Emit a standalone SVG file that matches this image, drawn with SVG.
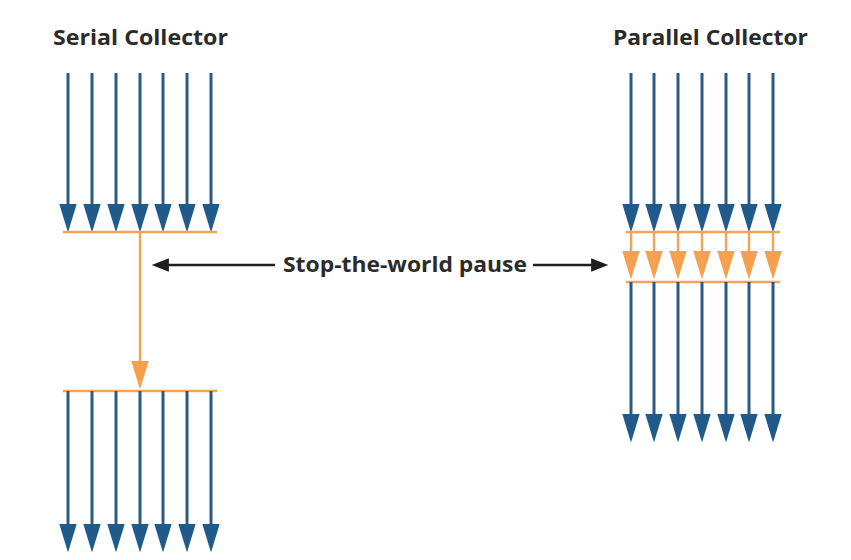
<svg xmlns="http://www.w3.org/2000/svg" width="851" height="560" viewBox="0 0 851 560">
<style>
.t{font-family:"Open Sans","Liberation Sans",sans-serif;font-weight:700;fill:#2b2b2b}
.b{stroke:#2d5a82;stroke-width:3;fill:none}
.o{stroke:#f2a55a;stroke-width:2.5;fill:none}
.k{stroke:#1e1e1e;stroke-width:2.5;fill:none}
</style>
<defs>
<marker id="hb" markerUnits="userSpaceOnUse" markerWidth="30" markerHeight="20" viewBox="0 -8 24 16" refX="13" refY="0" orient="auto"><path d="M0,-7 L23,0 L0,7 z" fill="#1f5a8a"/></marker>
<marker id="ho" markerUnits="userSpaceOnUse" markerWidth="30" markerHeight="20" viewBox="0 -8 24 16" refX="13" refY="0" orient="auto"><path d="M0,-7 L23,0 L0,7 z" fill="#f4a04e"/></marker>
<marker id="hk" markerUnits="userSpaceOnUse" markerWidth="20" markerHeight="16" viewBox="0 -7 16 14" refX="6" refY="0" orient="auto"><path d="M0,-6 L15,0 L0,6 z" fill="#1e1e1e"/></marker>
</defs>
<rect width="851" height="560" fill="#ffffff"/>
<g id="serial">
<text class="t" x="53" y="45" font-size="21" textLength="175" lengthAdjust="spacingAndGlyphs">Serial Collector</text>
<g class="b" marker-end="url(#hb)">
<line x1="68" y1="73" x2="68" y2="220"/><line x1="92" y1="73" x2="92" y2="220"/><line x1="116" y1="73" x2="116" y2="220"/><line x1="140" y1="73" x2="140" y2="220"/><line x1="163" y1="73" x2="163" y2="220"/><line x1="187" y1="73" x2="187" y2="220"/><line x1="211" y1="73" x2="211" y2="220"/>
</g>
<line class="o" x1="63" y1="232" x2="217" y2="232"/>
<line class="o" x1="140" y1="232" x2="140" y2="377" marker-end="url(#ho)"/>
<line class="o" x1="63" y1="391" x2="217" y2="391"/>
<g class="b" marker-end="url(#hb)">
<line x1="68" y1="391" x2="68" y2="540"/><line x1="92" y1="391" x2="92" y2="540"/><line x1="116" y1="391" x2="116" y2="540"/><line x1="140" y1="391" x2="140" y2="540"/><line x1="163" y1="391" x2="163" y2="540"/><line x1="187" y1="391" x2="187" y2="540"/><line x1="211" y1="391" x2="211" y2="540"/>
</g>
</g>
<g id="parallel">
<text class="t" x="613" y="45" font-size="21" textLength="195" lengthAdjust="spacingAndGlyphs">Parallel Collector</text>
<g class="b" marker-end="url(#hb)">
<line x1="631" y1="73" x2="631" y2="220"/><line x1="654" y1="73" x2="654" y2="220"/><line x1="678" y1="73" x2="678" y2="220"/><line x1="702" y1="73" x2="702" y2="220"/><line x1="726" y1="73" x2="726" y2="220"/><line x1="749" y1="73" x2="749" y2="220"/><line x1="773" y1="73" x2="773" y2="220"/>
</g>
<line class="o" x1="626" y1="232" x2="780" y2="232"/>
<g class="o" marker-end="url(#ho)">
<line x1="631" y1="232" x2="631" y2="267"/><line x1="654" y1="232" x2="654" y2="267"/><line x1="678" y1="232" x2="678" y2="267"/><line x1="702" y1="232" x2="702" y2="267"/><line x1="726" y1="232" x2="726" y2="267"/><line x1="749" y1="232" x2="749" y2="267"/><line x1="773" y1="232" x2="773" y2="267"/>
</g>
<line class="o" x1="626" y1="282" x2="780" y2="282"/>
<g class="b" marker-end="url(#hb)">
<line x1="631" y1="282" x2="631" y2="430"/><line x1="654" y1="282" x2="654" y2="430"/><line x1="678" y1="282" x2="678" y2="430"/><line x1="702" y1="282" x2="702" y2="430"/><line x1="726" y1="282" x2="726" y2="430"/><line x1="749" y1="282" x2="749" y2="430"/><line x1="773" y1="282" x2="773" y2="430"/>
</g>
</g>
<g id="pause">
<text class="t" x="283" y="272" font-size="21" textLength="244" lengthAdjust="spacingAndGlyphs">Stop-the-world pause</text>
</g>
<g id="connectors">
<line class="k" x1="275" y1="265" x2="162" y2="265" marker-end="url(#hk)"/>
<line class="k" x1="533" y1="265" x2="598" y2="265" marker-end="url(#hk)"/>
</g>
</svg>
